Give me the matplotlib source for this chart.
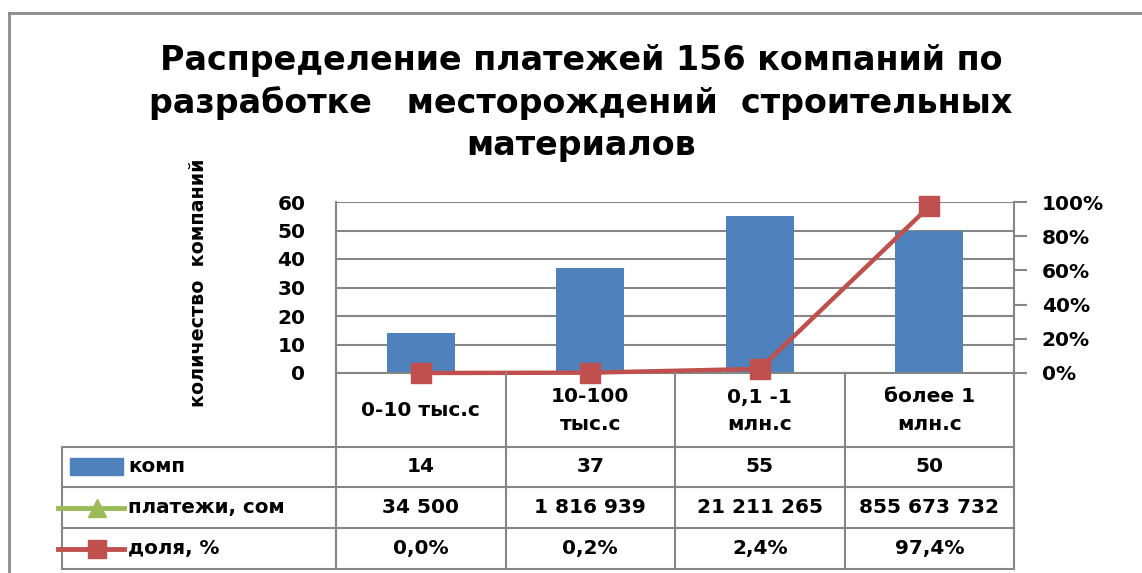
import matplotlib
matplotlib.use('Agg')
import matplotlib.pyplot as plt
import matplotlib.transforms as mtransforms
from matplotlib.lines import Line2D
from matplotlib.patches import Rectangle
from matplotlib.ticker import FuncFormatter

# ---- data ----
categories = ['0-10 тыс.с', '10-100\nтыс.с', '0,1 -1\nмлн.с', 'более 1\nмлн.с']
companies = [14, 37, 55, 50]
payments = [34500, 1816939, 21211265, 855673732]
share = [0.0, 0.2, 2.4, 97.4]
series_names = ['комп', 'платежи, сом', 'доля, %']
left_ticks = [0, 10, 20, 30, 40, 50, 60]
right_ticks = [0, 20, 40, 60, 80, 100]
title = 'Распределение платежей 156 компаний по\nразработке   месторождений  строительных\nматериалов'
ylabel = 'количество  компаний'

BAR = '#4F81BD'
RED = '#C0504D'
GREEN = '#9BBB59'
GRID = '#868686'

plt.rcParams['font.family'] = ['DejaVu Sans']
plt.rcParams['font.weight'] = 'bold'

W, H = 1142, 573
fig = plt.figure(figsize=(W / 100, H / 100), dpi=100)
fig.patch.set_facecolor('white')

# overlay in pixel coordinates
ov = fig.add_axes([0, 0, 1, 1], zorder=5)
ov.set_xlim(0, W)
ov.set_ylim(H, 0)
ov.set_axis_off()

ax_l, ax_r, ax_t, ax_b = 336, 1014, 202, 373
ax = fig.add_axes([ax_l / W, 1 - ax_b / H, (ax_r - ax_l) / W, (ax_b - ax_t) / H], zorder=1)
x = list(range(len(categories)))
ax.bar(x, companies, width=0.4, color=BAR, zorder=2)
ax.set_xlim(-0.5, len(categories) - 0.5)
ax.set_ylim(left_ticks[0], left_ticks[-1])
ax.set_yticks(left_ticks)
ax.set_xticks([])
ax.grid(axis='y', color=GRID, lw=1.5, zorder=0)
for s in ['top', 'right']:
    ax.spines[s].set_visible(False)
for s in ['left', 'bottom']:
    ax.spines[s].set_color(GRID)
    ax.spines[s].set_linewidth(1.5)
ax.tick_params(axis='y', length=0, pad=22, labelsize=14.5)
for t in ax.get_yticklabels():
    t.set_fontweight('bold')

ax2 = ax.twinx()
ax2.set_zorder(2)
ax2.set_ylim(0, 1)
ax2.set_yticks([v / 100 for v in right_ticks])
ax2.yaxis.set_major_formatter(FuncFormatter(lambda v, p: f'{v*100:.0f}%'))
ax2.tick_params(axis='y', length=9, width=1.5, color=GRID, direction='out', pad=11, labelsize=14.5)
for t in ax2.get_yticklabels():
    t.set_fontweight('bold')
for s in ['top', 'left', 'bottom']:
    ax2.spines[s].set_visible(False)
ax2.spines['right'].set_color(GRID)
ax2.spines['right'].set_linewidth(1.5)
ax2.plot(x, [v / 100 for v in share], color=RED, lw=3.2, marker='s', ms=15,
         clip_on=False, zorder=3)

# ---- frame ----
ov.add_line(Line2D([9, 9], [13, H], color='#8c8c8c', lw=2))
ov.add_line(Line2D([9, W], [13, 13], color='#8c8c8c', lw=2))

# ---- title & y label ----
ov.text(581, 103, title, ha='center', va='center', fontsize=24, fontweight='bold',
        linespacing=1.35)
ov.text(198, 283, ylabel, ha='center', va='center', rotation=90, fontsize=13.7,
        fontweight='bold')

# ---- data table ----
tr = mtransforms.blended_transform_factory(ax.transData, ov.transData)
tab_left = 62
row_lines = [447, 487, 528, 569]
for y in row_lines:
    ov.add_line(Line2D([tab_left, ax_r], [y, y], color=GRID, lw=1.5))
ov.add_line(Line2D([tab_left, tab_left], [row_lines[0], row_lines[-1]], color=GRID, lw=1.5))
for b in [i - 0.5 for i in range(len(categories) + 1)]:
    ov.add_line(Line2D([b, b], [ax_b, row_lines[-1]], color=GRID, lw=1.5, transform=tr))

for i, c in enumerate(categories):
    ov.text(i, 411, c, transform=tr, ha='center', va='center', fontsize=14.5,
            fontweight='bold', linespacing=1.6)

def fmt_int(v):
    return f'{v:,}'.replace(',', ' ')

def fmt_pct(v):
    return f'{v:.1f}%'.replace('.', ',')

rows = [[str(v) for v in companies], [fmt_int(v) for v in payments], [fmt_pct(v) for v in share]]
row_centers = [(row_lines[k] + row_lines[k + 1]) / 2 for k in range(3)]
for k, vals in enumerate(rows):
    for i, v in enumerate(vals):
        ov.text(i, row_centers[k], v, transform=tr, ha='center', va='center',
                fontsize=14.5, fontweight='bold')
    ov.text(128, row_centers[k], series_names[k], ha='left', va='center',
            fontsize=14.3, fontweight='bold')

# legend keys
ov.add_patch(Rectangle((70, 458), 53, 17, color=BAR))
ov.add_line(Line2D([58, 124], [row_centers[1], row_centers[1]], color=GREEN, lw=3.5))
ov.add_line(Line2D([97], [row_centers[1]], color=GREEN, marker='^', ms=13, lw=0))
ov.add_line(Line2D([58, 124], [row_centers[2], row_centers[2]], color=RED, lw=3.5))
ov.add_line(Line2D([97], [row_centers[2]], color=RED, marker='s', ms=13, lw=0))

fig.savefig('out.png', dpi=100, facecolor='white')
